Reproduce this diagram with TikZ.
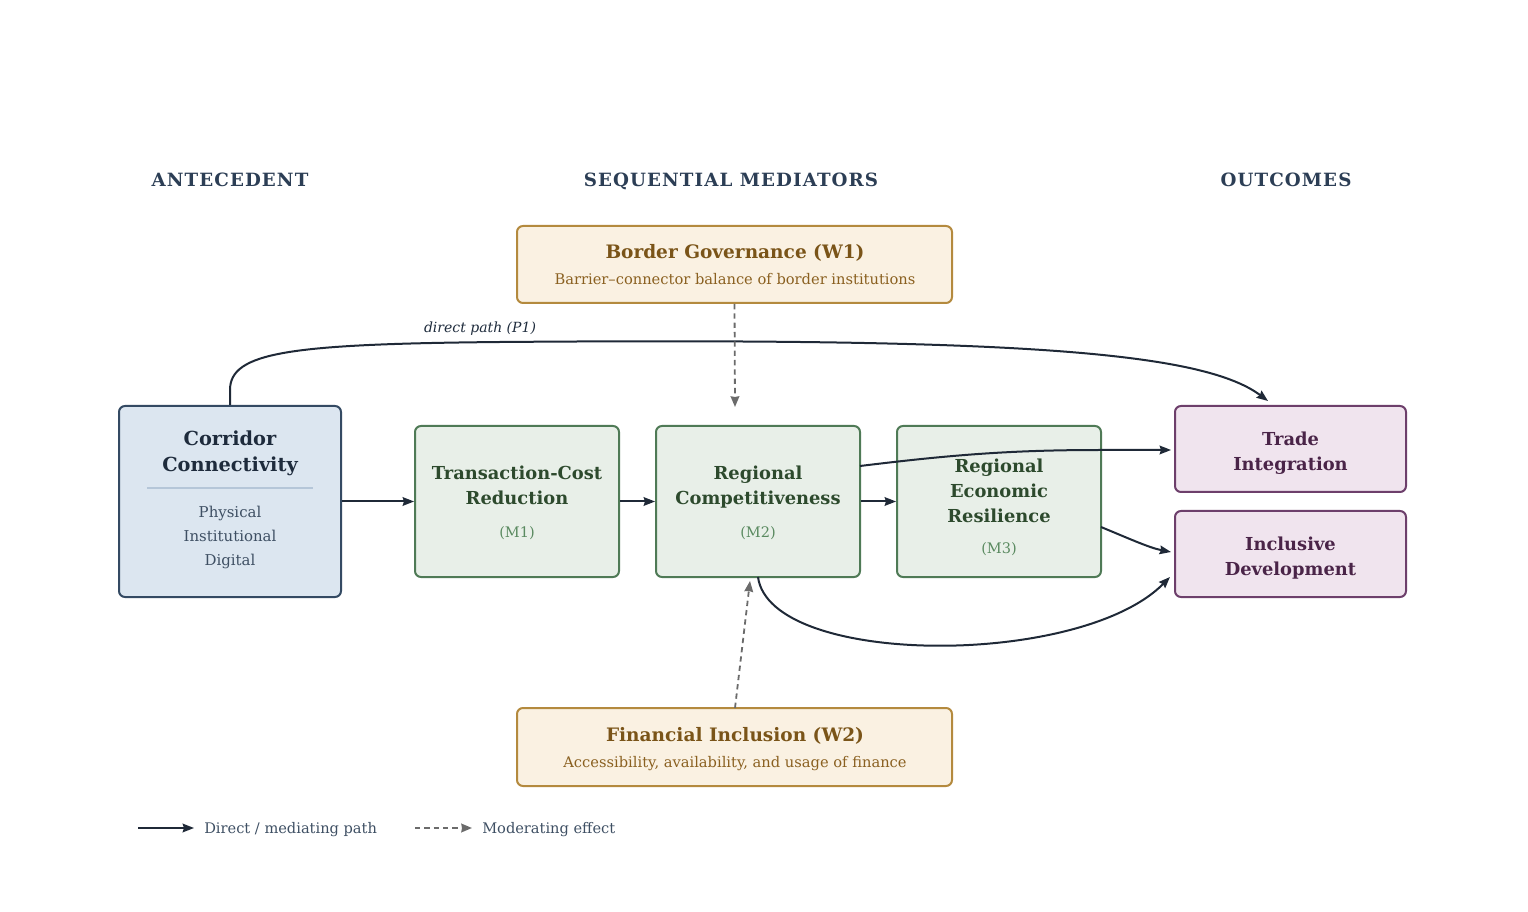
\documentclass[tikz,border=0pt]{standalone}
\usepackage{fontspec}
\setmainfont{DejaVu Serif}
\newfontfamily\hdrfont[LetterSpace=6]{DejaVu Serif}
\usetikzlibrary{arrows.meta}
\definecolor{hdr}{HTML}{2C3E55}
\definecolor{ink}{HTML}{1F2937}
\definecolor{mgray}{HTML}{6B6B6B}
\definecolor{bfill}{HTML}{DCE6F0}\definecolor{bline}{HTML}{344A63}\definecolor{btext}{HTML}{1E2B3C}\definecolor{bsub}{HTML}{3E4F63}\definecolor{bsep}{HTML}{B5C6D8}
\definecolor{gfill}{HTML}{E8EFE8}\definecolor{gline}{HTML}{4F7A56}\definecolor{gtext}{HTML}{2D4A2D}\definecolor{gsub}{HTML}{5A8A60}
\definecolor{pfill}{HTML}{F0E4EE}\definecolor{pline}{HTML}{6D3F6B}\definecolor{ptext}{HTML}{4A2448}
\definecolor{tfill}{HTML}{FAF1E2}\definecolor{tline}{HTML}{B48A3E}\definecolor{ttext}{HTML}{7A5418}\definecolor{tsub}{HTML}{8A6020}
\tikzset{
  box/.style={rounded corners=4.5pt, line width=1.5pt, inner sep=0pt},
  bluebox/.style={box, draw=bline, fill=bfill},
  greenbox/.style={box, draw=gline, fill=gfill},
  purplebox/.style={box, draw=pline, fill=pfill},
  tanbox/.style={box, draw=tline, fill=tfill},
  lbl/.style={anchor=base, inner sep=0pt, yshift=-1.1pt},
  header/.style={lbl, text=hdr, font=\hdrfont\bfseries\fontsize{13.7}{15}\selectfont},
  gtitle/.style={lbl, text=gtext, font=\bfseries\fontsize{13.4}{15}\selectfont},
  gsubt/.style={lbl, text=gsub, font=\fontsize{10.9}{12}\selectfont},
  ptitle/.style={lbl, text=ptext, font=\bfseries\fontsize{13.4}{15}\selectfont},
  ttitle/.style={lbl, text=ttext, font=\bfseries\fontsize{13.9}{15}\selectfont},
  tsubt/.style={lbl, text=tsub, font=\fontsize{11}{12}\selectfont},
  subtxt/.style={lbl, text=bsub, font=\fontsize{11.2}{12}\selectfont},
  legtxt/.style={anchor=base west, inner sep=0pt, yshift=-0.8pt, text=bsub, font=\fontsize{10.95}{12}\selectfont},
  dpath/.style={draw=ink, line width=1.5pt, -{Stealth[length=8.5pt,width=6.5pt,inset=1pt]}},
  moder/.style={draw=mgray, line width=1.35pt, dash pattern=on 4pt off 3pt, -{Stealth[length=8pt,width=6.5pt,inset=0.5pt]}},
}
\begin{document}
\begin{tikzpicture}[x=0.75pt, y=-0.75pt]
\useasboundingbox (0,0) rectangle (1528,912);
% headers
\node[header] (h1) at (230,185) {ANTECEDENT};
\node[header] (h2) at (731,185) {SEQUENTIAL MEDIATORS};
\node[header] (h3) at (1286,185) {OUTCOMES};
% W1
\node[tanbox, minimum width={435*0.75pt}, minimum height={77*0.75pt}] (w1) at (734.5,264.5) {};
\node[ttitle] (w1t) at (735,257) {Border Governance (W1)};
\node[tsubt] (w1s) at (735,283) {Barrier–connector balance of border institutions};
% W2
\node[tanbox, minimum width={435*0.75pt}, minimum height={78*0.75pt}] (w2) at (734.5,747) {};
\node[ttitle] (w2t) at (735,740) {Financial Inclusion (W2)};
\node[tsubt] (w2s) at (735,766) {Accessibility, availability, and usage of finance};
% Corridor
\node[bluebox, minimum width={222*0.75pt}, minimum height={191*0.75pt}] (cc) at (230,501.5) {};
\node[lbl, text=btext, font=\bfseries\fontsize{14.5}{16}\selectfont] (cct1) at (230,444) {Corridor};
\node[lbl, text=btext, font=\bfseries\fontsize{14.5}{16}\selectfont] (cct2) at (230,470) {Connectivity};
\draw[bsep, line width=1.1pt] (147,488) -- (313,488);
\node[subtxt] (cci1) at (230,516) {Physical};
\node[subtxt] (cci2) at (230,540) {Institutional};
\node[subtxt] (cci3) at (230,564) {Digital};
% M1
\node[greenbox, minimum width={204*0.75pt}, minimum height={151*0.75pt}] (m1) at (517,501.5) {};
\node[gtitle] (m1a) at (517,478) {Transaction-Cost};
\node[gtitle] (m1b) at (517,503) {Reduction};
\node[gsubt] (m1c) at (517,536) {(M1)};
% M2
\node[greenbox, minimum width={204*0.75pt}, minimum height={151*0.75pt}] (m2) at (758,501.5) {};
\node[gtitle] (m2a) at (758,478) {Regional};
\node[gtitle] (m2b) at (758,503) {Competitiveness};
\node[gsubt] (m2c) at (758,536) {(M2)};
% M3
\node[greenbox, minimum width={204*0.75pt}, minimum height={151*0.75pt}] (m3) at (999,501.5) {};
\node[gtitle] (m3a) at (999,471) {Regional};
\node[gtitle] (m3b) at (999,496) {Economic};
\node[gtitle] (m3c) at (999,521) {Resilience};
\node[gsubt] (m3d) at (999,552) {(M3)};
% Outcomes
\node[purplebox, minimum width={231*0.75pt}, minimum height={86*0.75pt}] (ti) at (1290.5,449) {};
\node[ptitle] (tia) at (1290.5,444) {Trade};
\node[ptitle] (tib) at (1290.5,469) {Integration};
\node[purplebox, minimum width={231*0.75pt}, minimum height={86*0.75pt}] (id) at (1290.5,554) {};
\node[ptitle] (ida) at (1290.5,549) {Inclusive};
\node[ptitle] (idb) at (1290.5,574) {Development};
% coordinates
\coordinate (pEnd) at (1268,401);
\coordinate (w1tip) at (735,407);
\coordinate (w2top) at (735,708);
\coordinate (w2tip) at (750,581);
\coordinate (m2bot) at (758,577);
\coordinate (m2r) at (860,466);
\coordinate (tiin) at (1171,450);
\coordinate (m3r) at (1101,527);
\coordinate (idin) at (1171,552);
\coordinate (idin2) at (1170,577);
% connectors
\draw[dpath] (cc.east) -- (m1.west);
\draw[dpath] (m1.east) -- (m2.west);
\draw[dpath] (m2.east) -- (m3.west);
\draw[dpath] (cc.north) -- (230,390) .. controls (230,352) and (290,344) .. (500,342) .. controls (1000,338) and (1200,350) .. (pEnd);
\node[lbl, text=btext, font=\itshape\fontsize{10.5}{12}\selectfont] (p1) at (480,331) {direct path (P1)};
\draw[dpath] (m2r) .. controls (950,455) and (1010,450) .. (1100,450) -- (tiin);
\draw[dpath] (m3r) .. controls (1130,539) and (1150,548) .. (idin);
\draw[dpath] (m2bot) .. controls (770,667) and (1080,668) .. (idin2);
\draw[moder] (w1.south) -- (w1tip);
\draw[moder] (w2top) -- (w2tip);
% legend
\coordinate (l1a) at (138,828); \coordinate (l1b) at (194,828);
\coordinate (l2a) at (415,828); \coordinate (l2b) at (472,828);
\draw[dpath] (l1a) -- (l1b);
\draw[moder] (l2a) -- (l2b);
\node[legtxt] (lt1) at (204,832.5) {Direct / mediating path};
\node[legtxt] (lt2) at (482,832.5) {Moderating effect};
\end{tikzpicture}
\end{document}
